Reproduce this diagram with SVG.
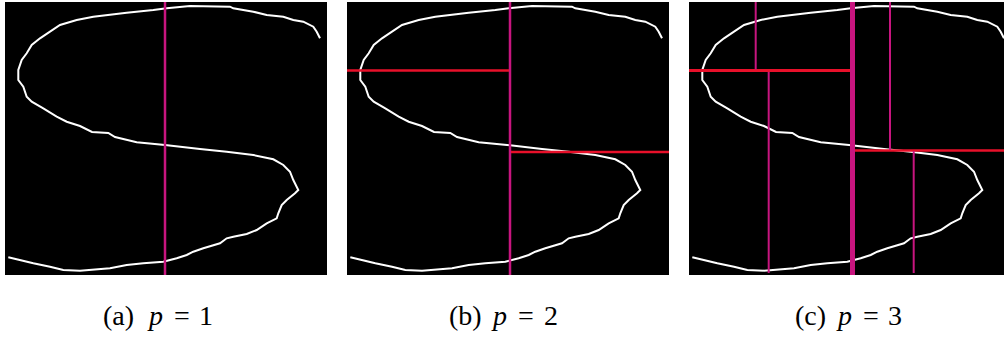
<svg xmlns="http://www.w3.org/2000/svg" width="1004" height="347" viewBox="0 0 1004 347">
<style>
.bg{fill:#000}
.curve{fill:none;stroke:#fff;stroke-width:2;stroke-linejoin:miter}
.mag{stroke:#c8157f;stroke-width:2.5}
.red{stroke:#e8102a;stroke-width:2.5}
.it{font-style:italic}
</style>
<defs>
<polyline id="s" class="curve" points="320,38.3 316.7,31.7 313.3,26.7 303.3,21.7 293.3,20 283.3,16.7 266.7,15 253.3,11.7 233.3,8.3 230,6.7 190,6 166.7,8.3 153.3,10 126.7,12.7 93.3,16.7 76.7,20 60,25 50,31.7 40,38.3 31.7,45 26.7,53.3 21.7,60 18.3,70 18.3,80 23.3,86.7 26.7,96.7 31.7,101.7 43.3,108.3 56.7,116.7 66.7,121.7 80,126 92,132 108.3,133 115,137 136.7,142.3 165,145 200,149 226.7,151.7 253.3,155 273.3,159.3 283.3,165 290,171.7 293.3,180 298.3,190 295,193.3 286.7,200 281.7,205 278.3,213.3 276.7,218.3 266.7,223.3 256.7,230 246.7,234 233.3,236.7 226.7,238.3 220,243.3 203.3,248.3 193.3,251.7 186.7,255 176.7,258.3 163.3,261.7 143.3,263.3 126.7,265 110,268.3 80,270.7 63.3,270 50,266.7 33.3,263.3 8.3,257.3"/>
</defs>
<rect width="1004" height="347" fill="#fff"/>
<g id="panel-a">
<rect class="bg" x="5" y="2" width="322" height="273"/>
<use href="#s"/>
<line class="mag" x1="165" y1="2" x2="165" y2="275"/>
</g>
<g id="panel-b">
<rect class="bg" x="347" y="2" width="322" height="273"/>
<use href="#s" transform="translate(342,0)"/>
<line class="mag" x1="510" y1="2" x2="510" y2="275"/>
<line class="red" x1="347" y1="70.5" x2="509" y2="70.5"/>
<line class="red" x1="511" y1="152" x2="669" y2="152"/>
</g>
<g id="panel-c">
<rect class="bg" x="689" y="2" width="315" height="273"/>
<use href="#s" transform="translate(684,0)"/>
<line class="mag" x1="852.5" y1="2" x2="852.5" y2="275" style="stroke-width:5"/>
<line class="red" x1="689" y1="70.5" x2="850" y2="70.5" style="stroke-width:3"/>
<line class="red" x1="855" y1="150.5" x2="1004" y2="150.5"/>
<line class="mag" x1="755.7" y1="2" x2="755.7" y2="69.5" style="stroke-width:2"/>
<line class="mag" x1="768.7" y1="72" x2="768.7" y2="273" style="stroke-width:2"/>
<line class="mag" x1="890" y1="2" x2="890" y2="150" style="stroke-width:2"/>
<line class="mag" x1="913.7" y1="151" x2="913.7" y2="273" style="stroke-width:2"/>
</g>
<g id="captions" font-family="'Liberation Serif', 'DejaVu Serif', serif" font-size="28" fill="#000">
<text x="103" y="325">(a)<tspan class="it" x="149">p</tspan><tspan x="174">=</tspan><tspan x="199">1</tspan></text>
<text x="449" y="325">(b)<tspan class="it" x="493">p</tspan><tspan x="518">=</tspan><tspan x="544">2</tspan></text>
<text x="795" y="325">(c)<tspan class="it" x="838">p</tspan><tspan x="863">=</tspan><tspan x="888">3</tspan></text>
</g>
</svg>
